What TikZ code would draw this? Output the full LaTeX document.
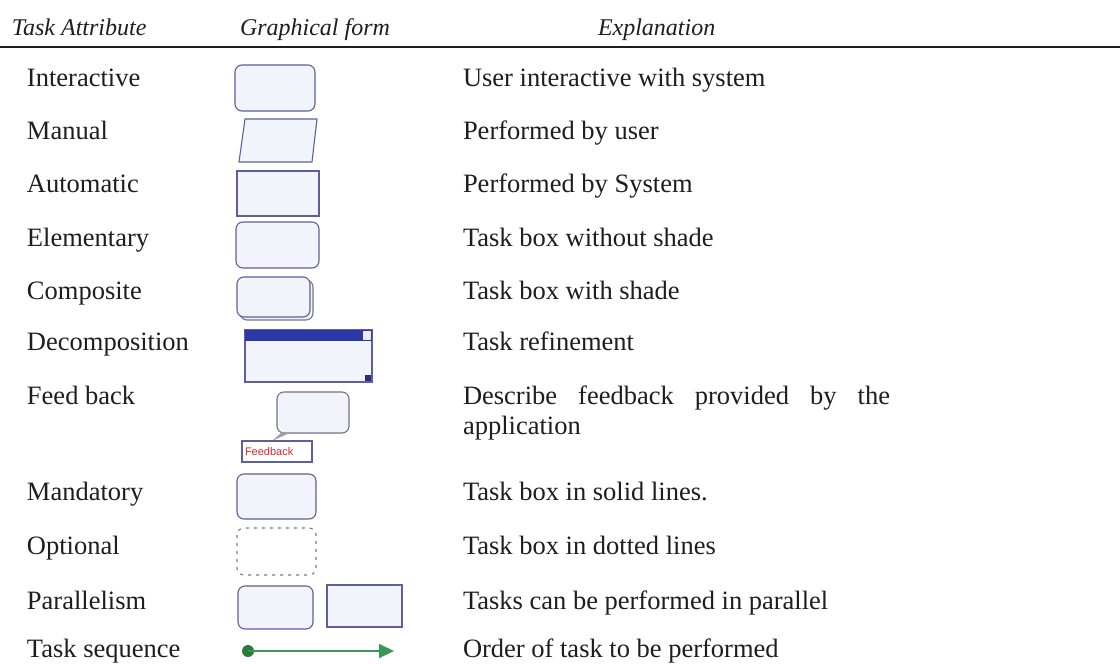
\documentclass[tikz,border=0pt]{standalone}
\usepackage{fontspec}
\setmainfont{Liberation Serif}
\setsansfont{Liberation Sans}
\usetikzlibrary{arrows.meta}
\definecolor{ink}{RGB}{30,30,30}
\definecolor{bord}{RGB}{95,95,155}
\definecolor{boxfill}{RGB}{241,245,251}
\definecolor{shadegray}{RGB}{120,120,130}
\definecolor{barblue}{RGB}{45,55,165}
\definecolor{seqgreen}{RGB}{60,150,85}
\definecolor{dotgreen}{RGB}{45,120,60}
\definecolor{fbred}{RGB}{215,40,50}
\begin{document}
\begin{tikzpicture}[x=1pt,y=-1pt,
  every node/.style={inner sep=0pt, outer sep=0pt},
  lbl/.style={anchor=base west, font=\fontsize{26.5}{30}\selectfont, text=ink},
  hdr/.style={anchor=base west, font=\fontsize{24}{26}\selectfont\itshape, text=ink},
  tbox/.style={draw=bord, fill=boxfill, line width=1.1pt, rounded corners=7pt},
  sbox/.style={draw=bord, fill=boxfill, line width=1.1pt}]
\useasboundingbox[fill=white] (0,0) rectangle (1120,664);

% header
\node[hdr] (h1) at (12,35) {Task Attribute};
\node[hdr] (h2) at (240,35) {Graphical form};
\node[hdr] (h3) at (598,35) {Explanation};
\coordinate (hl) at (0,47);
\coordinate (hr) at (1120,47);
\draw[line width=1.6pt, ink] (hl) -- (hr);

% labels
\node[lbl] (l1) at (27,86) {Interactive};
\node[lbl] (l2) at (27,139) {Manual};
\node[lbl] (l3) at (27,192) {Automatic};
\node[lbl] (l4) at (27,246) {Elementary};
\node[lbl] (l5) at (27,299) {Composite};
\node[lbl] (l6) at (27,350) {Decomposition};
\node[lbl] (l7) at (27,404) {Feed back};
\node[lbl] (l8) at (27,500) {Mandatory};
\node[lbl] (l9) at (27,554) {Optional};
\node[lbl] (l10) at (27,609) {Parallelism};
\node[lbl] (l11) at (27,657) {Task sequence};

% explanations
\node[lbl] (e1) at (463,86) {User interactive with system};
\node[lbl] (e2) at (463,139) {Performed by user};
\node[lbl] (e3) at (463,192) {Performed by System};
\node[lbl] (e4) at (463,246) {Task box without shade};
\node[lbl] (e5) at (463,299) {Task box with shade};
\node[lbl] (e6) at (463,350) {Task refinement};
\node[lbl] (e7) at (463,404) {\makebox[427pt][s]{Describe feedback provided by the}};
\node[lbl] (e7b) at (463,434) {application};
\node[lbl] (e8) at (463,500) {Task box in solid lines.};
\node[lbl] (e9) at (463,554) {Task box in dotted lines};
\node[lbl] (e10) at (463,609) {Tasks can be performed in parallel};
\node[lbl] (e11) at (463,657) {Order of task to be performed};

% graphical forms
% interactive
\draw[tbox] (235,65) rectangle (315,111);
% manual
\draw[sbox] (245,119) -- (317,119) -- (312,162) -- (239,162) -- cycle;
% automatic
\draw[sbox] (237,171) rectangle (319,216);
% elementary
\draw[tbox] (236,222) rectangle (319,268);
% composite
\draw[tbox, draw=shadegray] (240,280) rectangle (313,320);
\draw[tbox] (237,277) rectangle (310,317);
% decomposition
\draw[draw=bord, fill=boxfill, line width=1.1pt] (245,330) rectangle (372,382);
\fill[barblue] (245,330) rectangle (372,341);
\fill[white!85!gray] (363,331) rectangle (371,340);
\fill[barblue!80!black] (365,375) rectangle (371,381);
% feedback
\draw[tbox, draw=shadegray!80!bord] (277,392) rectangle (349,433);
\fill[shadegray!70] (282,432) -- (292,432) -- (272,441) -- cycle;
\draw[draw=bord, fill=white, line width=1.1pt] (242,441) rectangle (312,462);
\node[anchor=west, font=\sffamily\fontsize{11}{12}\selectfont, text=fbred] (fbt) at (245,452) {Feedback};
% mandatory
\draw[tbox] (237,474) rectangle (316,519);
% optional
\draw[tbox, draw=shadegray, fill=white, dash pattern=on 3pt off 5pt] (237,528) rectangle (316,575);
% parallelism
\draw[tbox] (238,586) rectangle (313,629);
\draw[sbox] (327,585) rectangle (402,627);
% task sequence
\node[circle, fill=dotgreen, minimum size=12pt] (sq) at (248,651) {};
\coordinate (sqe) at (394,651);
\draw[seqgreen, line width=2pt, -{Triangle[length=15pt,width=14pt]}] (sq.center) -- (sqe);
\end{tikzpicture}
\end{document}
